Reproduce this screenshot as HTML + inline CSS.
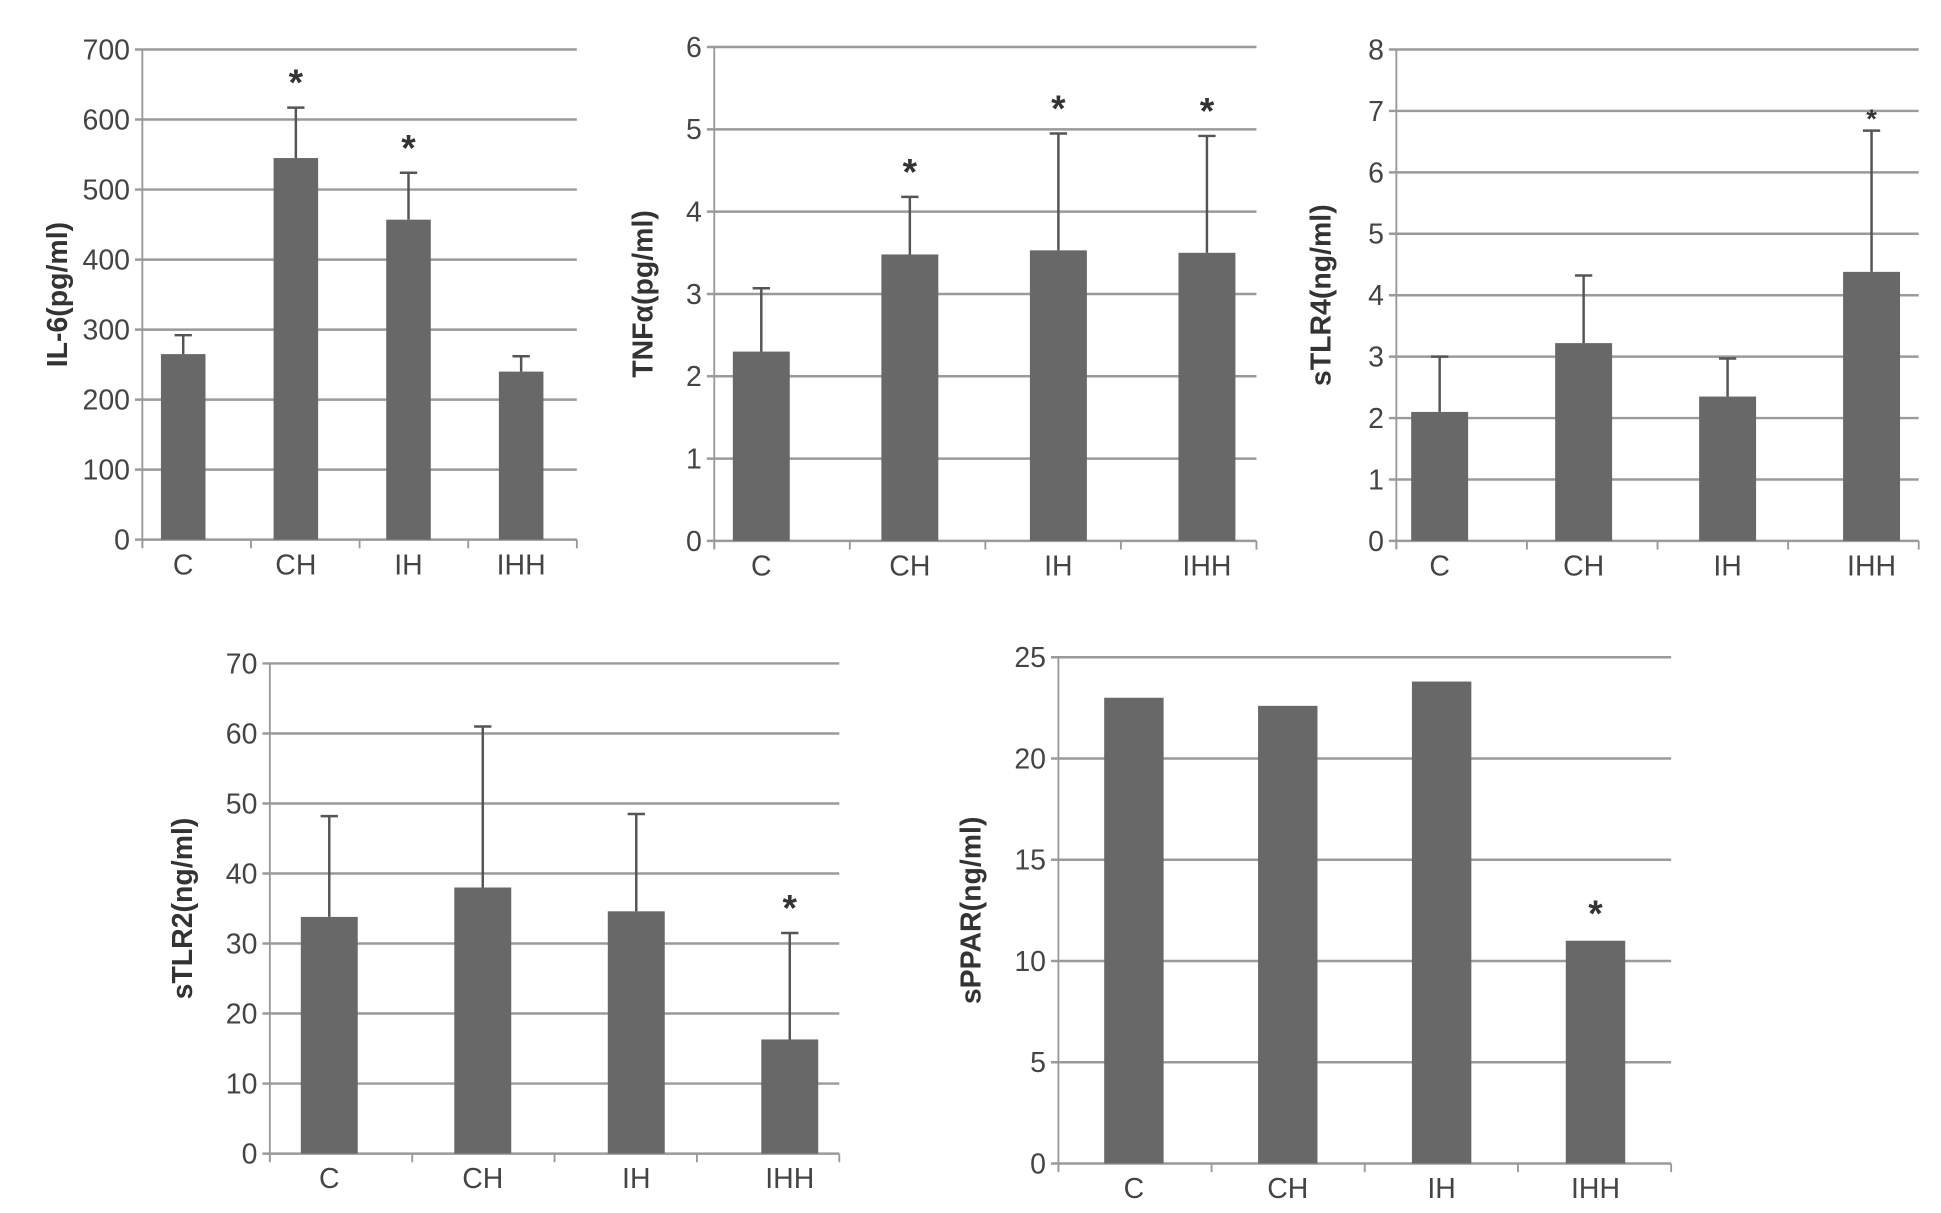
<!DOCTYPE html>
<html><head><meta charset="utf-8">
<style>
html,body{margin:0;padding:0;background:#fff;}
svg{display:block;}
text{font-family:"Liberation Sans",sans-serif;}
</style></head>
<body>
<svg id="fig" width="1941" height="1213" viewBox="0 0 1568 980" preserveAspectRatio="none" xmlns="http://www.w3.org/2000/svg"></svg>
<script>
const categories = ["C","CH","IH","IHH"];
// IL-6
const il6Values = [265, 545, 457, 240];
const il6Errors = [292, 617, 524, 262];
const il6Stars = [false, true, true, false];
const il6Ticks = [0,100,200,300,400,500,600,700];
// TNFα
const tnfValues = [2.3, 3.48, 3.53, 3.5];
const tnfErrors = [3.07, 4.18, 4.95, 4.92];
const tnfStars = [false, true, true, true];
const tnfTicks = [0,1,2,3,4,5,6];
// sTLR4
const tlr4Values = [2.1, 3.22, 2.35, 4.38];
const tlr4Errors = [3.0, 4.32, 2.97, 6.68];
const tlr4Stars = [false, false, false, true];
const tlr4Ticks = [0,1,2,3,4,5,6,7,8];
// sTLR2
const tlr2Values = [33.8, 38, 34.6, 16.3];
const tlr2Errors = [48.2, 61, 48.5, 31.5];
const tlr2Stars = [false, false, false, true];
const tlr2Ticks = [0,10,20,30,40,50,60,70];
// sPPAR
const pparValues = [23, 22.6, 23.8, 11];
const pparErrors = [null, null, null, null];
const pparStars = [false, false, false, true];
const pparTicks = [0,5,10,15,20,25];

const NS = "http://www.w3.org/2000/svg";
const svg = document.getElementById("fig");
function mk(tag, attrs, parent){
  const e = document.createElementNS(NS, tag);
  for (const k in attrs) e.setAttribute(k, attrs[k]);
  (parent||svg).appendChild(e);
  return e;
}

function chart(cfg){
  const g = mk("g", {});
  
  
  const ticks = cfg.ticks;
  const ymax = ticks[ticks.length-1];
  const y = v => cfg.y0 - (v/ymax)*(cfg.y0-cfg.ytop);
  const step = (cfg.right-cfg.left)/categories.length;
  const xc = i => cfg.bx0 + cfg.bstep*i;
  ticks.forEach(t=>{
    const l = mk("line",{x1:cfg.left-6,x2:cfg.right,y1:y(t),y2:y(t),stroke:"#9a9a9a","stroke-width":2},g);
    
    
    const tx = mk("text",{x:cfg.left-10,y:y(t)+8,"text-anchor":"end","font-size":cfg.fs,fill:"#444"},g);
    tx.textContent = t;
    
    
  });
  const ax = mk("line",{x1:cfg.left,x2:cfg.left,y1:cfg.ytop,y2:cfg.y0+6,stroke:"#999","stroke-width":1.5},g);
  
  
  for(let i=0;i<=categories.length;i++){
    const tk = mk("line",{x1:cfg.left+step*i,x2:cfg.left+step*i,y1:cfg.y0,y2:cfg.y0+7,stroke:"#999","stroke-width":1.5},g);
    
    
  }
  categories.forEach((c,i)=>{
    const v = cfg.values[i];
    const b = mk("rect",{x:xc(i)-cfg.bw/2,y:y(v),width:cfg.bw,height:cfg.y0-y(v),fill:"#686868"},g);
    
    
    let topY = y(v);
    const e = cfg.errors[i];
    if (e!=null){
      const el = mk("path",{d:`M${xc(i)} ${y(v)} V${y(e)} M${xc(i)-7} ${y(e)} H${xc(i)+7}`,stroke:"#555","stroke-width":2,fill:"none"},g);
      
      
      topY = y(e);
    }
    if (cfg.stars[i]){
      const s = mk("text",{x:xc(i),y:topY-cfg.starGap,"text-anchor":"middle","font-size":cfg.starSize,"font-weight":"bold",fill:"#333"},g);
      s.textContent="*";
      
      
    }
    const cl = mk("text",{x:xc(i),y:cfg.y0+28,"text-anchor":"middle","font-size":cfg.fs,fill:"#444"},g);
    cl.textContent = c;
    
    
  });
  const yl = mk("text",{x:0,y:0,"text-anchor":"middle","font-size":23,"font-weight":"bold",fill:"#333",transform:`translate(${cfg.lx},${(cfg.y0+cfg.ytop)/2}) rotate(-90)`},g);
  yl.textContent = cfg.label;
  
  
}

chart({name:"il6-chart",values:il6Values,errors:il6Errors,stars:il6Stars,ticks:il6Ticks,left:115,right:466,ytop:40,y0:436,bx0:148,bstep:91,bw:36,fs:23,lx:54,label:"IL-6(pg/ml)",starGap:10,starSize:30});
chart({name:"tnf-chart",values:tnfValues,errors:tnfErrors,stars:tnfStars,ticks:tnfTicks,left:577,right:1015,ytop:38,y0:437,bx0:615,bstep:120,bw:46,fs:23,lx:527,label:"TNFα(pg/ml)",starGap:10,starSize:30});
chart({name:"tlr4-chart",values:tlr4Values,errors:tlr4Errors,stars:tlr4Stars,ticks:tlr4Ticks,left:1128,right:1550,ytop:40,y0:437,bx0:1163,bstep:116.3,bw:46,fs:23,lx:1075,label:"sTLR4(ng/ml)",starGap:2,starSize:22});
chart({name:"tlr2-chart",values:tlr2Values,errors:tlr2Errors,stars:tlr2Stars,ticks:tlr2Ticks,left:218,right:678,ytop:536,y0:932,bx0:266,bstep:124,bw:46,fs:23,lx:155,label:"sTLR2(ng/ml)",starGap:10,starSize:30});
chart({name:"ppar-chart",values:pparValues,errors:pparErrors,stars:pparStars,ticks:pparTicks,left:855,right:1350,ytop:531,y0:940,bx0:916,bstep:124.3,bw:48,fs:23,lx:792,label:"sPPAR(ng/ml)",starGap:12,starSize:30});
</script>
</body></html>
